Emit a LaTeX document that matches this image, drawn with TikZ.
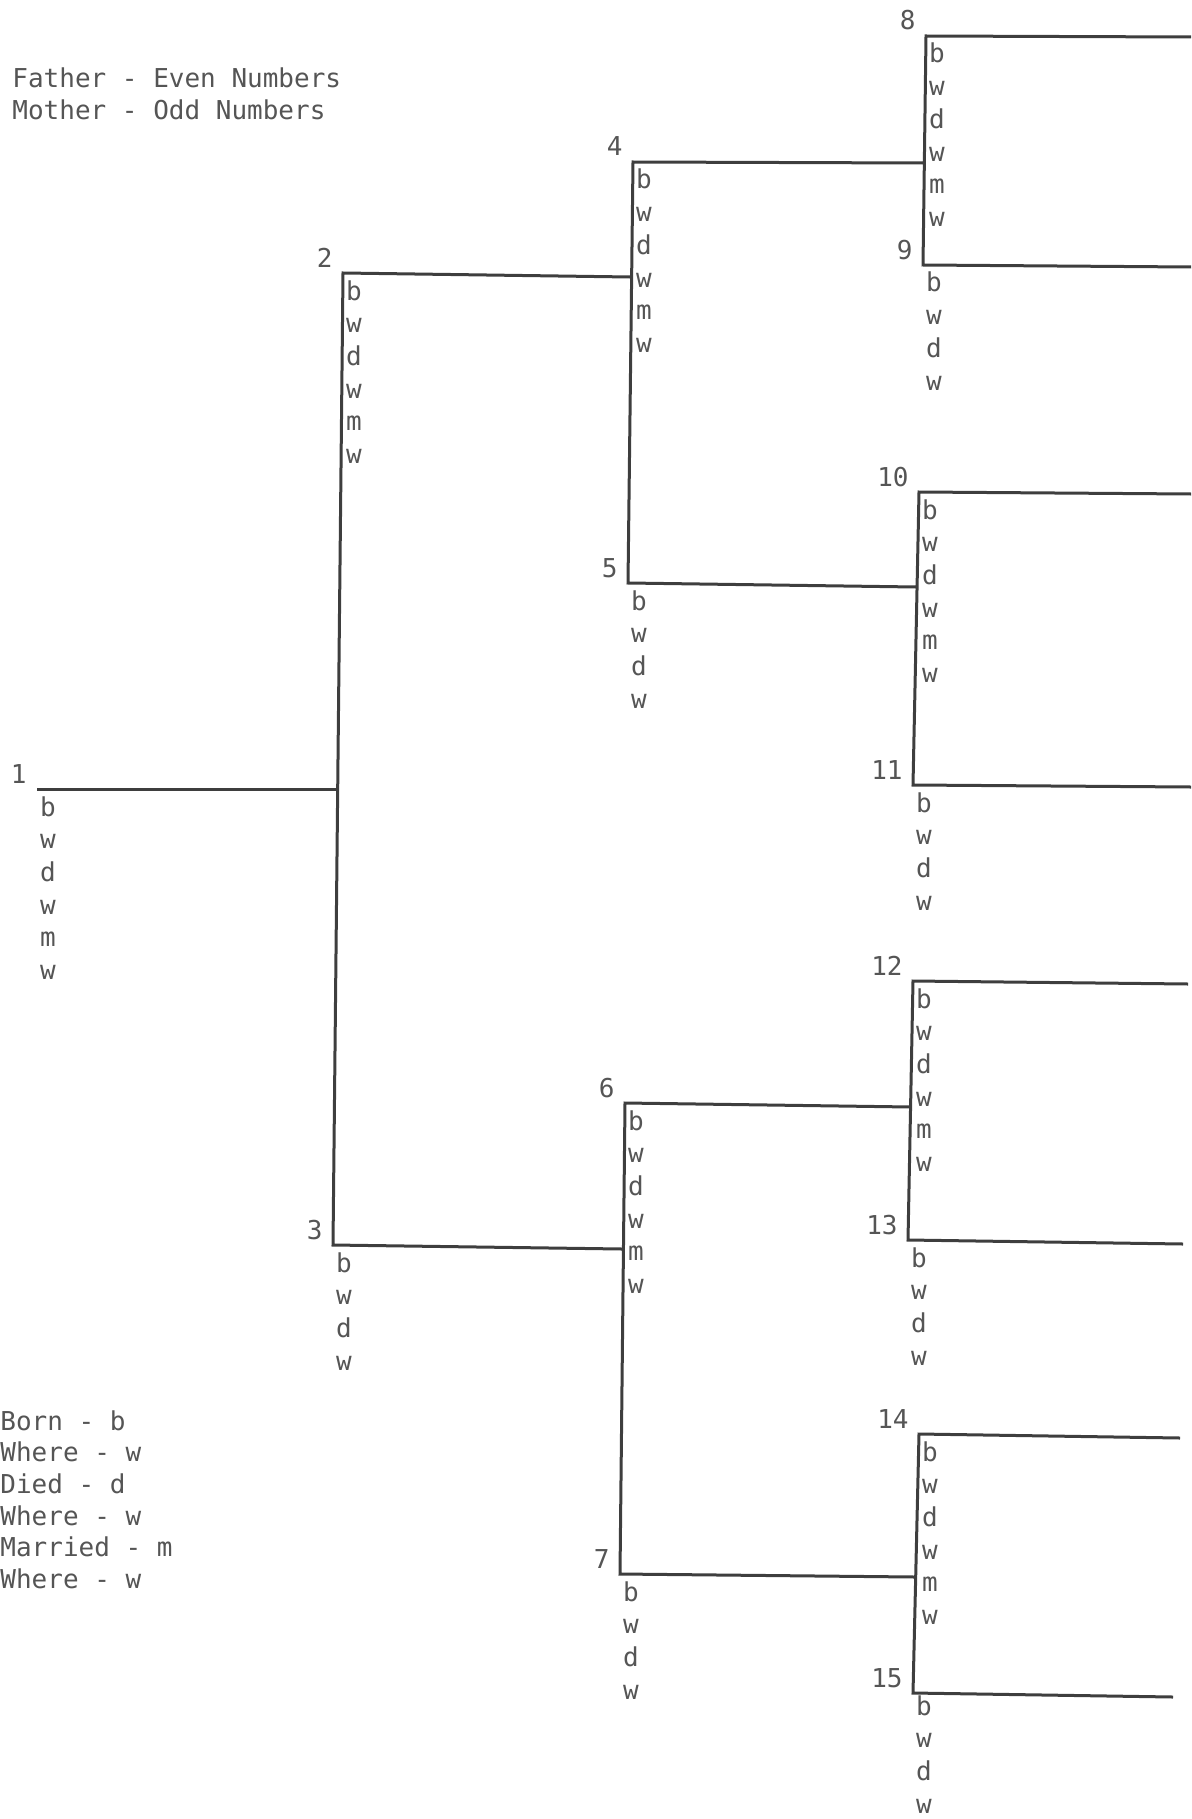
\documentclass[tikz,border=0pt]{standalone}
\usepackage{fontspec}
\setmonofont{DejaVu Sans Mono}
\definecolor{ink}{HTML}{555555}
\definecolor{rulegray}{HTML}{3e3e3e}

\begin{document}
\begin{tikzpicture}[x=0.5pt, y=-0.5pt,
    every node/.style={inner sep=0pt, text=ink,
        font=\ttfamily\fontsize{13}{16}\selectfont},
    bracket/.style={draw=rulegray, line width=1.5pt, line join=miter},
    num/.style={anchor=base east},
    entry/.style={anchor=base},
    key/.style={anchor=base west}]
    \useasboundingbox (0, 0) rectangle (1191, 1819);
    % corners: where each person's line starts
    \foreach \p/\x/\y in {
        1/37/789,
        2/343/273, 3/333/1245,
        4/633/162, 5/628/583,
        6/625/1103, 7/620/1574,
        8/926/36, 9/923/265,
        10/919/492, 11/913/785,
        12/913/981, 13/908/1240,
        14/919/1434, 15/913/1693
    } {
        \coordinate (p\p) at (\x, \y);
    }
    % ends: where each person's line stops
    \foreach \p/\x/\y in {
        1/336/789,
        2/630/277, 3/622/1249,
        4/924/163, 5/916/587,
        6/911/1107, 7/915/1577,
        8/1191/37, 9/1191/267,
        10/1191/494, 11/1191/787,
        12/1188/984, 13/1183/1244,
        14/1180/1438, 15/1173/1697
    } {
        \coordinate (e\p) at (\x, \y);
    }
    \draw[bracket] (p1) -- (e1);
    \draw[bracket]
        \foreach \f/\m in {2/3, 4/5, 6/7, 8/9, 10/11, 12/13, 14/15} {
            (e\f) -- (p\f) -- (p\m) -- (e\m)
        };
    % numbers
    \foreach \p in {1, ..., 15} {
        \node[num] (n\p) at ([shift={(-10, -6)}]p\p) {\p};
    }
    % fathers and the subject
    \foreach \p in {1, 2, 4, 6, 8, 10, 12, 14} {
        \foreach \t [count=\k from 0] in {b, w, d, w, m, w} {
            \node[entry] (l\p-\k) at ([shift={(11, 27 + 32.7*\k)}]p\p) {\t};
        }
    }
    % mothers
    \foreach \p/\s in {3/27, 5/27, 7/27, 9/27, 11/27, 13/27, 15/22} {
        \foreach \t [count=\k from 0] in {b, w, d, w} {
            \node[entry] (l\p-\k) at ([shift={(11, \s + 32.7*\k)}]p\p) {\t};
        }
    }
    % keys
    \foreach \t [count=\k from 0] in {Father - Even Numbers, Mother - Odd Numbers} {
        \node[key] (top\k) at (12, 88 + 32*\k) {\t};
    }
    \foreach \t [count=\k from 0] in {Born - b, Where - w, Died - d,
                                      Where - w, Married - m, Where - w} {
        \node[key] (low\k) at (0, 1430 + 31.7*\k) {\t};
    }
\end{tikzpicture}
\end{document}
